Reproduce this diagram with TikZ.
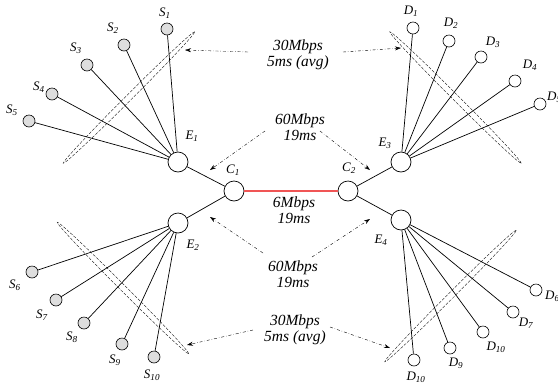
\documentclass[tikz,border=0pt]{standalone}
\usepackage{fontspec}
\setmainfont{Liberation Serif}
\newfontfamily\tms{Liberation Serif}
\usetikzlibrary{arrows.meta,shapes.geometric}
\definecolor{linkred}{RGB}{240,85,85}
\definecolor{srcgray}{RGB}{222,222,222}
\begin{document}
\begin{tikzpicture}[x=1pt,y=-1pt,
 src/.style={circle,draw,fill=srcgray,minimum size=12pt,inner sep=0pt,line width=0.6pt},
 dst/.style={circle,draw,fill=white,minimum size=12pt,inner sep=0pt,line width=0.6pt},
 rtr/.style={circle,draw,fill=white,minimum size=20pt,inner sep=0pt,line width=0.7pt},
 lbl/.style={font=\tms\fontsize{13}{13}\selectfont\itshape,inner sep=0pt},
 info/.style={font=\tms\fontsize{15.5}{16}\selectfont\itshape,align=center,inner sep=0pt},
 link/.style={line width=0.7pt},
 ann/.style={dash dot,line width=0.4pt,-{Stealth[length=6pt,width=4pt]}},
 grp/.style={draw,ellipse,dash pattern=on 3pt off 1.5pt,line width=0.35pt,minimum width=186pt,minimum height=6pt,inner sep=0pt}]
\useasboundingbox (0,0) rectangle (558,384);

% groups
\node[grp,rotate=45]  (g1) at (129,97.5) {};
\node[grp,rotate=-45] (g3) at (455.5,97.5) {};
\node[grp,rotate=-45] (g2) at (123,288) {};
\node[grp,rotate=45]  (g4) at (450.5,296) {};

% routers
\node[rtr] (E1) at (178,162) {};
\node[rtr] (C1) at (234,191) {};
\node[rtr] (C2) at (348,191) {};
\node[rtr] (E3) at (401,162) {};
\node[rtr] (E2) at (178,223) {};
\node[rtr] (E4) at (401,220) {};

% sources
\node[src] (S1) at (167,29) {};
\node[src] (S2) at (124,45) {};
\node[src] (S3) at (87,65) {};
\node[src] (S4) at (52,94) {};
\node[src] (S5) at (29,121) {};
\node[src] (S6) at (32,272) {};
\node[src] (S7) at (56,300) {};
\node[src] (S8) at (84,323) {};
\node[src] (S9) at (122,344) {};
\node[src] (S10) at (154,357) {};

% destinations
\node[dst] (D1) at (413,28) {};
\node[dst] (D2) at (449,41) {};
\node[dst] (D3) at (481,57) {};
\node[dst] (D4) at (515,81) {};
\node[dst] (D5) at (540,104) {};
\node[dst] (D6) at (536,290) {};
\node[dst] (D7) at (513,312) {};
\node[dst] (D8) at (483,332) {};
\node[dst] (D9) at (450,348) {};
\node[dst] (D10) at (414,360) {};

% links
\foreach \s in {S1,S2,S3,S4,S5} \draw[link] (E1) -- (\s);
\foreach \s in {S6,S7,S8,S9,S10} \draw[link] (E2) -- (\s);
\foreach \d in {D1,D2,D3,D4,D5} \draw[link] (E3) -- (\d);
\foreach \d in {D6,D7,D8,D9,D10} \draw[link] (E4) -- (\d);
\draw[link] (E1) -- (C1);
\draw[link] (E2) -- (C1);
\draw[link] (E3) -- (C2);
\draw[link] (E4) -- (C2);
\draw[line width=1.1pt,draw=linkred] (C1) -- (C2);

% node labels
\node[lbl] (lS1) at (165,13) {S\textsubscript{1}};
\node[lbl] (lS2) at (113,28) {S\textsubscript{2}};
\node[lbl] (lS3) at (76,48) {S\textsubscript{3}};
\node[lbl] (lS4) at (39,87) {S\textsubscript{4}};
\node[lbl] (lS5) at (12,110) {S\textsubscript{5}};
\node[lbl] (lS6) at (15,285) {S\textsubscript{6}};
\node[lbl] (lS7) at (42,315) {S\textsubscript{7}};
\node[lbl] (lS8) at (72,337) {S\textsubscript{8}};
\node[lbl] (lS9) at (115,360) {S\textsubscript{9}};
\node[lbl] (lS10) at (152,375) {S\textsubscript{10}};
\node[lbl] (lD1) at (411,11) {D\textsubscript{1}};
\node[lbl] (lD2) at (451,23) {D\textsubscript{2}};
\node[lbl] (lD3) at (493,42) {D\textsubscript{3}};
\node[lbl] (lD4) at (530,65) {D\textsubscript{4}};
\node[lbl,anchor=west] (lD5) at (547,97) {D\textsubscript{5}};
\node[lbl,anchor=west] (lD6) at (545,296) {D\textsubscript{6}};
\node[lbl] (lD7) at (526,323) {D\textsubscript{7}};
\node[lbl] (lD8) at (496,347) {D\textsubscript{10}};
\node[lbl] (lD9) at (456,363) {D\textsubscript{9}};
\node[lbl] (lD10) at (416,377) {D\textsubscript{10}};
\node[lbl] (lE1) at (192,136) {E\textsubscript{1}};
\node[lbl] (lC1) at (233,170) {C\textsubscript{1}};
\node[lbl] (lC2) at (349,168) {C\textsubscript{2}};
\node[lbl] (lE3) at (385,143) {E\textsubscript{3}};
\node[lbl] (lE2) at (193,245) {E\textsubscript{2}};
\node[lbl] (lE4) at (381,240) {E\textsubscript{4}};

% info texts
\node[info] (t30a) at (298,55) {30Mbps\\5ms (avg)};
\node[info] (t60a) at (300,127) {60Mbps\\19ms};
\node[info] (t6)   at (294,210) {6Mbps\\19ms};
\node[info] (t60b) at (293,274) {60Mbps\\19ms};
\node[info] (t30b) at (295,330) {30Mbps\\5ms (avg)};

% arrow endpoints
\coordinate (a1s) at (248,52);  \coordinate (a1e) at (185,50);
\coordinate (a2s) at (343,52);  \coordinate (a2e) at (401,48);
\coordinate (a3s) at (265,131); \coordinate (a3e) at (210,170);
\coordinate (a4s) at (320,131); \coordinate (a4e) at (370,170);
\coordinate (a5s) at (263,253); \coordinate (a5e) at (210,217);
\coordinate (a6s) at (312,257); \coordinate (a6e) at (370,219);
\coordinate (a7s) at (253,330); \coordinate (a7e) at (187,345);
\coordinate (a8s) at (330,327); \coordinate (a8e) at (390,348);
\foreach \i in {1,...,8} \draw[ann] (a\i s) -- (a\i e);
\end{tikzpicture}
\end{document}
